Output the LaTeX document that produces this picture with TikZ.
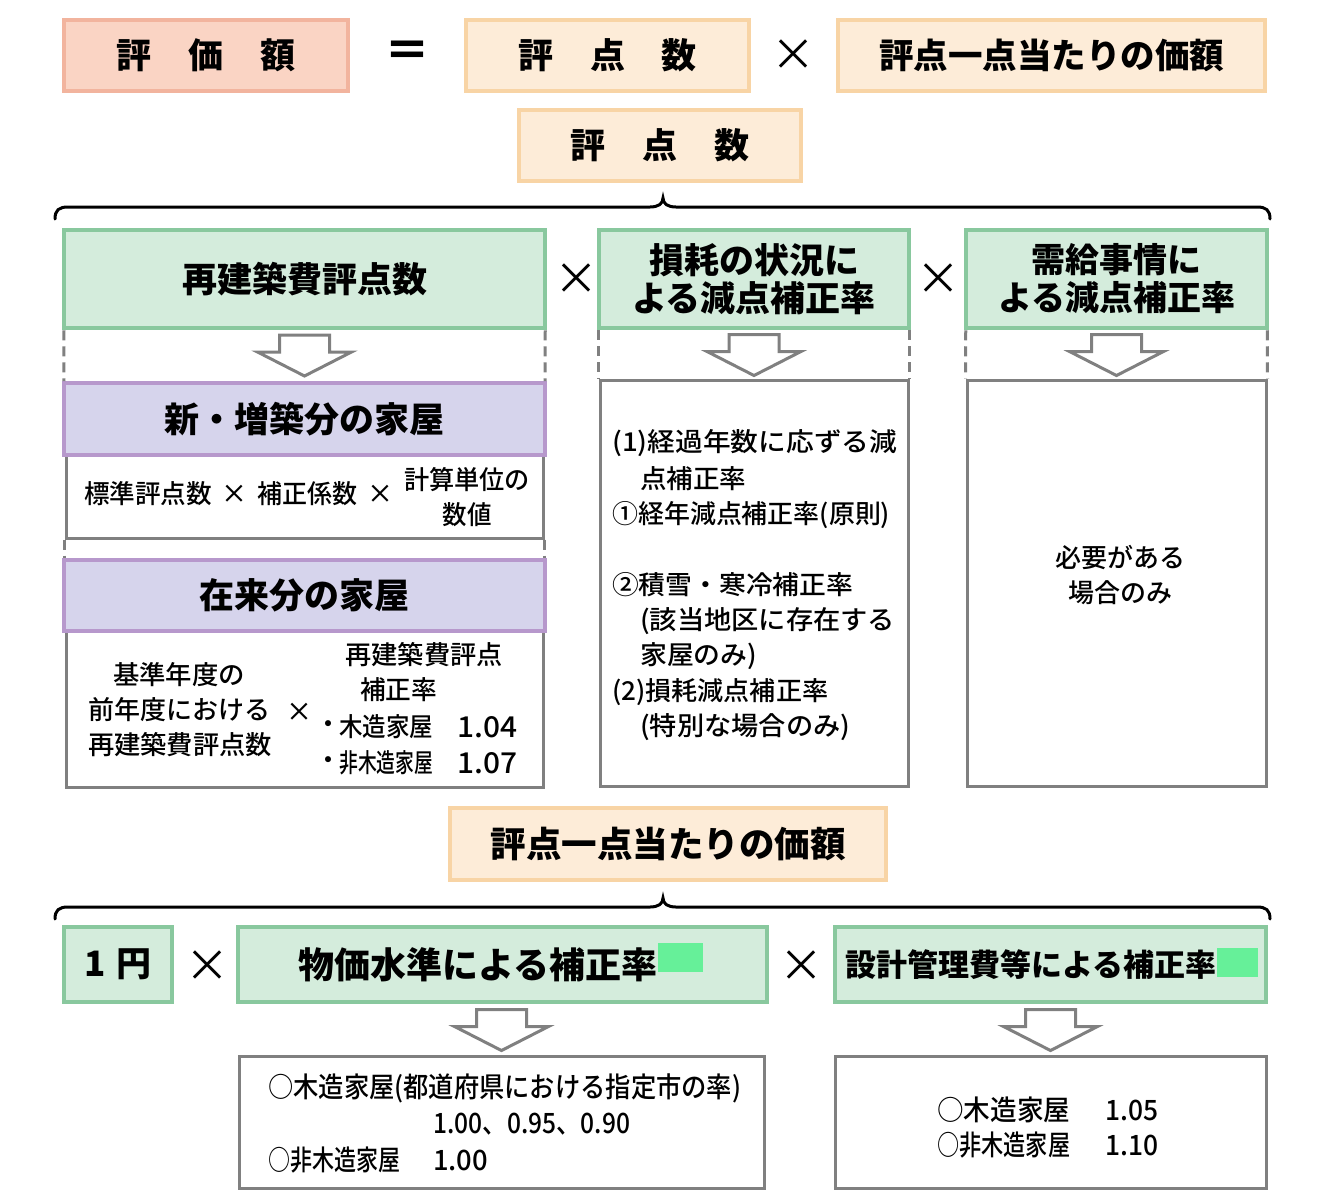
\documentclass[tikz,border=0pt]{standalone}
\usepackage{fontspec}
\setmainfont{Noto Sans CJK JP}
\newfontfamily\jpmed{Noto Sans CJK JP Medium}
\newcommand\fitto[2]{\resizebox{#1}{\height}{#2}}
\definecolor{salfill}{RGB}{250,212,196}
\definecolor{saldraw}{RGB}{242,180,158}
\definecolor{peachfill}{RGB}{253,236,216}
\definecolor{peachdraw}{RGB}{248,212,165}
\definecolor{greenfill}{RGB}{212,236,220}
\definecolor{greendraw}{RGB}{137,200,158}
\definecolor{purplefill}{RGB}{214,212,236}
\definecolor{purpledraw}{RGB}{183,152,204}
\definecolor{graydraw}{RGB}{128,128,128}
\definecolor{patchgreen}{RGB}{102,240,153}
\begin{document}
\begin{tikzpicture}[x=1pt,y=-1pt,
  salbox/.style={draw=saldraw, fill=salfill, line width=4pt, inner sep=0pt},
  peachbox/.style={draw=peachdraw, fill=peachfill, line width=4pt, inner sep=0pt},
  greenbox/.style={draw=greendraw, fill=greenfill, line width=4.5pt, inner sep=0pt},
  purplebox/.style={draw=purpledraw, fill=purplefill, line width=4pt, inner sep=0pt},
  graybox/.style={draw=graydraw, fill=white, line width=3pt, inner sep=0pt},
  hdr/.style={font=\fontsize{35}{38}\selectfont\bfseries, align=center},
  body/.style={font=\fontsize{26}{30}\selectfont\jpmed, inner sep=0pt},
  small/.style={font=\fontsize{28}{30}\selectfont\jpmed, inner sep=0pt},
  op/.style={font=\fontsize{44}{44}\selectfont, inner sep=0pt},
  dashline/.style={draw=graydraw, line width=3pt, dash pattern=on 10pt off 6pt},
  bracestyle/.style={line width=3pt, line cap=round},
  arrowstyle/.style={draw=graydraw, fill=white, line width=3pt, line join=miter},
  harrow/.pic={\draw[arrowstyle] (0,0) -- (-47,-24) -- (-25,-24) -- (-25,-41) -- (25,-41) -- (25,-24) -- (47,-24) -- cycle;}
]
\useasboundingbox (0,0) rectangle (1333,1192);
\fill[white] (0,0) rectangle (1333,1192);

% top row
\node[salbox, minimum width=284pt, minimum height=71pt, hdr] (pa) at (206,55.5) {評\hspace{37pt}価\hspace{37pt}額};
\node[op, font=\fontsize{46}{46}\selectfont\bfseries] (eq) at (407,54) {＝};
\node[peachbox, minimum width=283pt, minimum height=71pt, hdr] (pb) at (607.5,55.5) {評\hspace{37pt}点\hspace{37pt}数};
\node[op] (x1) at (793,55) {×};
\node[peachbox, minimum width=427pt, minimum height=71pt, hdr, font=\fontsize{34.5}{38}\selectfont\bfseries] (pc) at (1051.5,55.5) {評点一点当たりの価額};
\node[peachbox, minimum width=282pt, minimum height=71pt, hdr] (pd) at (660,145.5) {評\hspace{37pt}点\hspace{37pt}数};

% brace 1
\draw[bracestyle] (55,219) .. controls (55,210) and (59,207) .. (68,207) -- (650,207) .. controls (658,207) and (663,204) .. (663,198) .. controls (663,204) and (668,207) .. (676,207) -- (1257,207) .. controls (1266,207) and (1270,210) .. (1270,219);

% green headers
\node[greenbox, minimum width=481pt, minimum height=98pt, hdr] (g1) at (304.5,279) {再建築費評点数};
\node[op] (x2) at (576,279) {×};
\node[greenbox, minimum width=310pt, minimum height=98pt, hdr] (g2) at (754,279) {損耗の状況に\\よる減点補正率};
\node[op] (x3) at (938,279) {×};
\node[greenbox, minimum width=301pt, minimum height=98pt, hdr, font=\fontsize{34}{38}\selectfont\bfseries] (g3) at (1116.5,279) {需給事情に\\よる減点補正率};

% left column
\node[graybox, minimum width=477pt, minimum height=83pt] (w1) at (304.5,496.5) {};
\node[purplebox, minimum width=481pt, minimum height=72pt, hdr] (p1) at (304.5,419) {新・増築分の家屋};
\node[graybox, minimum width=477pt, minimum height=156pt] (w2) at (304.5,709) {};
\node[purplebox, minimum width=481pt, minimum height=71pt, hdr] (p2) at (304.5,595.5) {在来分の家屋};

\draw[dashline] ([xshift=2pt]g1.south west) -- ([xshift=2pt]p1.north west);
\draw[dashline] ([xshift=-2pt]g1.south east) -- ([xshift=-2pt]p1.north east);
\draw[dashline] (w1.south west) -- (w1.south west |- p2.north);
\draw[dashline] (w1.south east) -- (w1.south east |- p2.north);
\pic at ([yshift=5pt]p1.north) {harrow};

\node[body, anchor=west] (l1) at (84,494) {\fitto{128pt}{標準評点数}};
\node[body] (l2) at (234,494) {×};
\node[body, anchor=west] (l3) at (257,494) {\fitto{100pt}{補正係数}};
\node[body] (l4) at (380,494) {×};
\node[body] (l5) at (467,480) {\fitto{126pt}{計算単位の}};
\node[body] (l6) at (467,515) {\fitto{49pt}{数値}};

\node[body] (k1) at (179,675) {\fitto{132pt}{基準年度の}};
\node[body] (k2) at (179,710) {\fitto{182pt}{前年度における}};
\node[body] (k3) at (180,745) {\fitto{184pt}{再建築費評点数}};
\node[body] (k4) at (299,712) {×};
\node[body] (k5) at (424,655) {\fitto{157pt}{再建築費評点}};
\node[body, anchor=west] (k6) at (360,690) {\fitto{77pt}{補正率}};
\node[body] (k7a) at (328,727) {・};
\node[body, anchor=west] (k7) at (339,727) {\fitto{94pt}{木造家屋}};
\node[body, anchor=west] (k8) at (457,727) {\resizebox{60pt}{21pt}{1.04}};
\node[body] (k9a) at (328,763) {・};
\node[body, anchor=west] (k9) at (339,763) {\fitto{94pt}{非木造家屋}};
\node[body, anchor=west] (k10) at (457,763) {\resizebox{60pt}{21pt}{1.07}};

% middle column
\node[graybox, minimum width=308pt, minimum height=406pt] (m) at (754,583) {};
\draw[dashline] (m.north west |- g2.south) -- (m.north west);
\draw[dashline] (m.north east |- g2.south) -- (m.north east);
\pic at ([yshift=3pt]m.north) {harrow};
\node[body, anchor=west] (m1) at (612,443) {\fitto{285pt}{(1)経過年数に応ずる減}};
\node[body, anchor=west] (m2) at (640,479) {\fitto{106pt}{点補正率}};
\node[body, anchor=west] (m3) at (612,515) {\fitto{278pt}{①経年減点補正率(原則)}};
\node[body, anchor=west] (m4) at (612,585) {\fitto{241pt}{②積雪・寒冷補正率}};
\node[body, anchor=west] (m5) at (640,621) {\fitto{255pt}{(該当地区に存在する}};
\node[body, anchor=west] (m6) at (640,656) {\fitto{117pt}{家屋のみ)}};
\node[body, anchor=west] (m7) at (612,692) {\fitto{216pt}{(2)損耗減点補正率}};
\node[body, anchor=west] (m8) at (640,727) {\fitto{210pt}{(特別な場合のみ)}};

% right column
\node[graybox, minimum width=299pt, minimum height=406pt] (r) at (1116.5,583) {};
\draw[dashline] ([xshift=2pt]g3.south west) -- (r.north west);
\draw[dashline] ([xshift=-2pt]g3.south east) -- (r.north east);
\pic at ([yshift=3pt]r.north) {harrow};
\node[body] (r1) at (1120,558) {\fitto{130pt}{必要がある}};
\node[body] (r2) at (1120,593) {\fitto{104pt}{場合のみ}};

% bottom part
\node[peachbox, minimum width=436pt, minimum height=72pt, hdr, font=\fontsize{35.5}{38}\selectfont\bfseries] (ph) at (668,844) {評点一点当たりの価額};
\draw[bracestyle] (55,919) .. controls (55,910) and (59,907) .. (68,907) -- (650,907) .. controls (658,907) and (663,904) .. (663,898) .. controls (663,904) and (668,907) .. (676,907) -- (1257,907) .. controls (1266,907) and (1270,910) .. (1270,919);

\node[greenbox, minimum width=108pt, minimum height=75pt, hdr] (b1) at (118,964.5) {1\hspace{10pt}円};
\node[op] (x4) at (207,966) {×};
\node[greenbox, minimum width=529pt, minimum height=75pt] (b2) at (502.5,964.5) {};
\node[hdr, font=\fontsize{36}{38}\selectfont\bfseries, anchor=east, inner sep=0pt] (b2t) at (658,964.5) {物価水準による補正率};
\node[fill=patchgreen, minimum width=45pt, minimum height=29pt, inner sep=0pt] (patch1) at (680.5,957.5) {};
\node[op] (x5) at (801,966) {×};
\node[greenbox, minimum width=431pt, minimum height=75pt] (b3) at (1050.5,964.5) {};
\node[hdr, font=\fontsize{31}{34}\selectfont\bfseries, anchor=east, inner sep=0pt] (b3t) at (1217,964.5) {設計管理費等による補正率};
\node[fill=patchgreen, minimum width=41pt, minimum height=29pt, inner sep=0pt] (patch2) at (1237.5,962.5) {};

\node[graybox, minimum width=525pt, minimum height=132pt] (bw1) at (501.5,1122) {};
\node[graybox, minimum width=431pt, minimum height=132pt] (bw2) at (1050.5,1122) {};
\pic at ([yshift=4pt]bw1.north) {harrow};
\pic at ([yshift=4pt]bw2.north) {harrow};

\node[small, anchor=west] (s1) at (268,1088) {\fitto{473pt}{○木造家屋(都道府県における指定市の率)}};
\node[small, anchor=west] (s2) at (433,1124) {\fitto{197pt}{1.00、0.95、0.90}};
\node[small, anchor=west] (s3) at (268,1160) {\fitto{132pt}{○非木造家屋}};
\node[small, anchor=west] (s4) at (433,1160) {\fitto{55pt}{1.00}};
\node[small, anchor=west] (s5) at (937,1110) {\fitto{133pt}{○木造家屋}};
\node[small, anchor=west] (s6) at (1105,1110) {\fitto{53pt}{1.05}};
\node[small, anchor=west] (s7) at (937,1145) {\fitto{133pt}{○非木造家屋}};
\node[small, anchor=west] (s8) at (1105,1145) {\fitto{53pt}{1.10}};
\end{tikzpicture}
\end{document}
